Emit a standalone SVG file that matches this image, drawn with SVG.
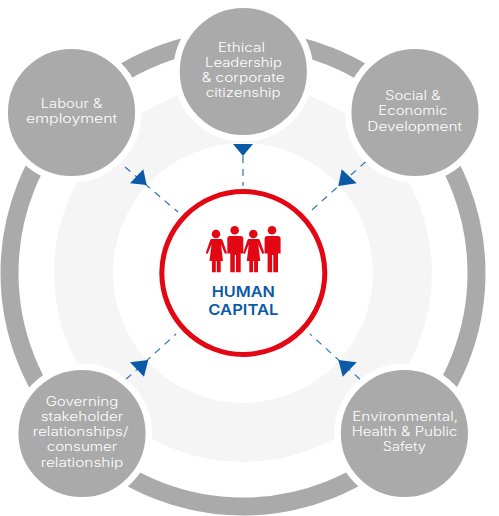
<svg xmlns="http://www.w3.org/2000/svg" width="499" height="516" viewBox="0 0 499 516">
<style>
.t{font-family:"Inter","Noto Sans","Liberation Sans",sans-serif;font-size:12.5px;font-weight:300;fill:#fff;text-anchor:middle}
.h{font-family:"Inter","Liberation Sans",sans-serif;font-size:15.200px;font-weight:600;fill:#0a5aa8;text-anchor:middle}
.n{fill:#aaa;stroke:#fff;stroke-width:6.5}
.d{stroke:#2a72b8;stroke-width:1.2;stroke-dasharray:7 6;fill:none}
.a{fill:#0a5aa8}
.p{fill:#e30613}
</style>
<rect width="499" height="516" fill="#fff"/>
<g id="rings">
<circle cx="243" cy="273" r="233.500" fill="none" stroke="#aaa" stroke-width="18"/>
<circle cx="243" cy="273" r="159.500" fill="none" stroke="#f5f5f5" stroke-width="59"/>
</g>
<g id="connectors">
<path class="d" d="M243 156V186"/>
<path class="d" d="M125 167L178 212"/>
<path class="d" d="M365.700 161.700L310 211.700"/>
<path class="d" d="M126 379.300L176 334"/>
<path class="d" d="M360 379.300L310 334"/>
<path class="a" d="M233 144H253L243 156Z"/>
<path class="a" d="M130 183.300L143.300 169.300L146.700 185Z"/>
<path class="a" d="M341.700 169.300L356.700 183.300L338.300 186Z"/>
<path class="a" d="M130 362.300L148.300 360L144 376.700Z"/>
<path class="a" d="M338.300 360L356.700 362.300L342.700 376.700Z"/>
</g>
<g id="node-ethical">
<circle class="n" cx="243.300" cy="71.500" r="66.800"/>
<text class="t" x="241.500" y="51.800" textLength="47" lengthAdjust="spacingAndGlyphs">Ethical</text><text class="t" x="243.500" y="67" textLength="77" lengthAdjust="spacingAndGlyphs">Leadership</text><text class="t" x="243.200" y="82.200" textLength="83" lengthAdjust="spacingAndGlyphs">&amp; corporate</text><text class="t" x="243.200" y="97.400" textLength="75" lengthAdjust="spacingAndGlyphs">citizenship</text>
</g>
<g id="node-labour">
<circle class="n" cx="71.500" cy="112.500" r="66.800"/>
<text class="t" x="71.500" y="107.500" textLength="61.700" lengthAdjust="spacingAndGlyphs">Labour &amp;</text><text class="t" x="71.700" y="122.700" textLength="91.300" lengthAdjust="spacingAndGlyphs">employment</text>
</g>
<g id="node-social">
<circle class="n" cx="415" cy="112.500" r="66.800"/>
<text class="t" x="412.800" y="100" textLength="55.700" lengthAdjust="spacingAndGlyphs">Social &amp;</text><text class="t" x="412.800" y="115.300" textLength="69" lengthAdjust="spacingAndGlyphs">Economic</text><text class="t" x="414.700" y="130.600" textLength="94.700" lengthAdjust="spacingAndGlyphs">Development</text>
</g>
<g id="node-governing">
<circle class="n" cx="82" cy="433.500" r="66.800"/>
<text class="t" x="82" y="405.800" textLength="72.700" lengthAdjust="spacingAndGlyphs">Governing</text><text class="t" x="82" y="421" textLength="82.700" lengthAdjust="spacingAndGlyphs">stakeholder</text><text class="t" x="80.500" y="436.200" textLength="95.700" lengthAdjust="spacingAndGlyphs">relationships/</text><text class="t" x="82" y="451.400" textLength="70.700" lengthAdjust="spacingAndGlyphs">consumer</text><text class="t" x="82" y="466.600" textLength="82.700" lengthAdjust="spacingAndGlyphs">relationship</text>
</g>
<g id="node-environmental">
<circle class="n" cx="404.400" cy="433.500" r="66.800"/>
<text class="t" x="405.200" y="421" textLength="106" lengthAdjust="spacingAndGlyphs">Environmental,</text><text class="t" x="404.500" y="436.200" textLength="105.700" lengthAdjust="spacingAndGlyphs">Health &amp; Public</text><text class="t" x="404.300" y="451.400" textLength="43.300" lengthAdjust="spacingAndGlyphs">Safety</text>
</g>
<g id="node-human-capital">
<circle cx="243.300" cy="273" r="81.500" fill="#fff" stroke="#e30613" stroke-width="5"/>
<g id="people" class="p">
<circle cx="216" cy="234" r="4.300"/>
<path d="M211.500 239H221Q222 239 222.500 240L227 253L225 254L221 244.500L223 261H220.700V272.300H216.800V261H215.800V272.300H212V261H209.500L211.500 244.500L207.500 254L205.800 253L210.200 240Q210.500 239 211.500 239Z"/>
<circle cx="253.300" cy="234" r="4.300"/>
<path transform="translate(37.300 0)" d="M211.500 239H221Q222 239 222.500 240L227 253L225 254L221 244.500L223 261H220.700V272.300H216.800V261H215.800V272.300H212V261H209.500L211.500 244.500L207.500 254L205.800 253L210.200 240Q210.500 239 211.500 239Z"/>
<circle cx="234.700" cy="230.300" r="4.300"/>
<path d="M229.500 236H241Q243.300 236 243.300 238.500V253.500H240.700V272.300H236V255H234.800V272.300H230.300V253.500H227.300V238.500Q227.300 236 229.500 236Z"/>
<circle cx="272" cy="230.300" r="4.300"/>
<path transform="translate(37.300 0)" d="M229.500 236H241Q243.300 236 243.300 238.500V253.500H240.700V272.300H236V255H234.800V272.300H230.300V253.500H227.300V238.500Q227.300 236 229.500 236Z"/>
</g>
<text class="h" x="243.300" y="296.700" textLength="63.300" lengthAdjust="spacingAndGlyphs">HUMAN</text><text class="h" x="243.300" y="315.300" textLength="70" lengthAdjust="spacingAndGlyphs">CAPITAL</text>
</g>
</svg>
